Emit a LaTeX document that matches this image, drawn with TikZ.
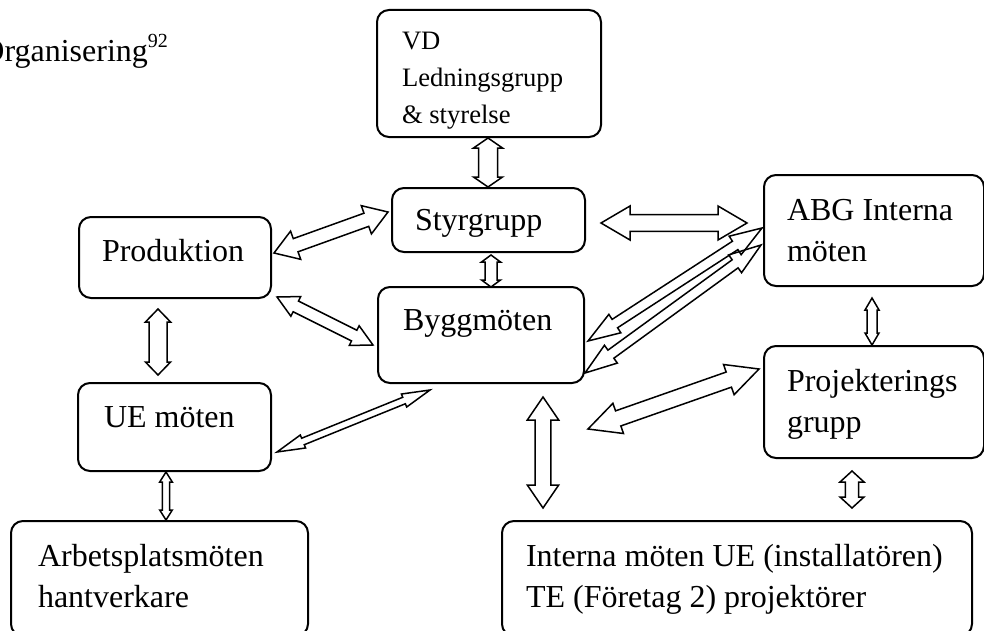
\documentclass[tikz,border=0pt]{standalone}
\usepackage{fontspec}
\setmainfont{Liberation Serif}
\usetikzlibrary{calc}

% hollow double block arrow: start, end, shaft half width, head half width, head length
\newcommand{\dblarrow}[5]{%
  \draw[blockarrow] (#1) -- ($(#1)!#5!(#2)!#4!90:(#2)$) -- ($(#1)!#5!(#2)!#3!90:(#2)$)
    -- ($(#2)!#5!(#1)!#3!-90:(#1)$) -- ($(#2)!#5!(#1)!#4!-90:(#1)$) -- (#2)
    -- ($(#2)!#5!(#1)!#4!90:(#1)$) -- ($(#2)!#5!(#1)!#3!90:(#1)$)
    -- ($(#1)!#5!(#2)!#3!-90:(#2)$) -- ($(#1)!#5!(#2)!#4!-90:(#2)$) -- cycle;}

\begin{document}
\begin{tikzpicture}[x=0.5pt, y=-0.5pt]
        \tikzstyle{box}=[draw, line width=1pt, rounded corners=6pt, inner ysep=0pt, align=flush left, font=\fontsize{16}{20.5}\selectfont]
        \tikzstyle{blockarrow}=[line width=0.75pt]
        \useasboundingbox (0,0) rectangle (984,631);

        \node[anchor=base west, inner sep=0pt, font=\fontsize{16}{20}\selectfont] (title) at (-19,62) {Organisering\raisebox{7pt}{\fontsize{10}{12}\selectfont 92}};

        \node[box, font=\fontsize{13.3}{18.5}\selectfont, text width=87pt, inner xsep=12.5pt, text height=20pt, text depth=43.5pt] (vd) at (489,73.5) {VD\\Ledningsgrupp\\\& styrelse};
        \node[box, text width=73.5pt, inner xsep=11.5pt, text height=21pt, text depth=11pt] (styr) at (488.5,220) {Styrgrupp};
        \node[box, text width=73pt, inner xsep=11.5pt, text height=22pt, text depth=18.5pt] (prod) at (175,257.5) {Produktion};
        \node[box, text width=78pt, inner xsep=12.5pt, text height=21.5pt, text depth=26.5pt] (bygg) at (481,335) {Byggmöten};
        \node[box, text width=87pt, inner xsep=11.5pt, text height=22.5pt, text depth=33pt] (abg) at (874,230.5) {ABG Interna\\möten};
        \node[box, text width=87pt, inner xsep=11.5pt, text height=22.5pt, text depth=33.5pt] (proj) at (874,402) {Projekterings\\grupp};
        \node[box, text width=70.5pt, inner xsep=13pt, text height=22pt, text depth=22pt] (ue) at (174.5,427) {UE möten};
        \node[box, text width=121.5pt, inner xsep=13.5pt, text height=22.5pt, text depth=35pt] (arb) at (159.5,578.5) {Arbetsplatsmöten\\hantverkare};
        \node[box, text width=211pt, inner xsep=12pt, text height=22.5pt, text depth=35pt] (int) at (737,578.5) {Interna möten UE (installatören)\\TE (Företag 2) projektörer};

        \coordinate (vdS) at (488,138);   \coordinate (styrN) at (488,187);
        \coordinate (styrS) at (491,255); \coordinate (byggN) at (491,287);
        \coordinate (prodA) at (274,253); \coordinate (styrW) at (388,212);
        \coordinate (prodB) at (277,297); \coordinate (byggW) at (373,345);
        \coordinate (styrE) at (601,223); \coordinate (abgW) at (747,223);
        \coordinate (byggA) at (588,341); \coordinate (abgA) at (762,228);
        \coordinate (byggB) at (585,373); \coordinate (abgB) at (761,245);
        \coordinate (abgS) at (872,298);  \coordinate (projN) at (872,345);
        \coordinate (prodS) at (158,309); \coordinate (ueN) at (158,375);
        \coordinate (ueE) at (277,452);   \coordinate (byggC) at (430,390);
        \coordinate (byggS) at (543,397); \coordinate (intN) at (543,508);
        \coordinate (byggD) at (588,429); \coordinate (projW) at (759,369);
        \coordinate (ueS) at (166,472);   \coordinate (arbN) at (166,520);
        \coordinate (projS) at (852,471); \coordinate (intM) at (852,508);

        \dblarrow{vdS}{styrN}{4.75pt}{7.25pt}{5pt}
        \dblarrow{styrS}{byggN}{3pt}{4.75pt}{3.5pt}
        \dblarrow{prodA}{styrW}{3.5pt}{7.5pt}{11.5pt}
        \dblarrow{prodB}{byggW}{3pt}{5.5pt}{10.5pt}
        \dblarrow{styrE}{abgW}{4.2pt}{8.5pt}{14.5pt}
        \dblarrow{byggA}{abgA}{2.5pt}{5.5pt}{16pt}
        \dblarrow{byggB}{abgB}{2.5pt}{5.5pt}{16pt}
        \dblarrow{abgS}{projN}{2.5pt}{3.5pt}{6pt}
        \dblarrow{prodS}{ueN}{4.5pt}{6.3pt}{6.5pt}
        \dblarrow{ueE}{byggC}{1.75pt}{3.5pt}{14pt}
        \dblarrow{byggS}{intN}{3.9pt}{7.85pt}{11.5pt}
        \dblarrow{byggD}{projW}{4pt}{8pt}{16pt}
        \dblarrow{ueS}{arbN}{1.85pt}{3.15pt}{5pt}
        \dblarrow{projS}{intM}{3.35pt}{6pt}{5.5pt}

\end{tikzpicture}
\end{document}
